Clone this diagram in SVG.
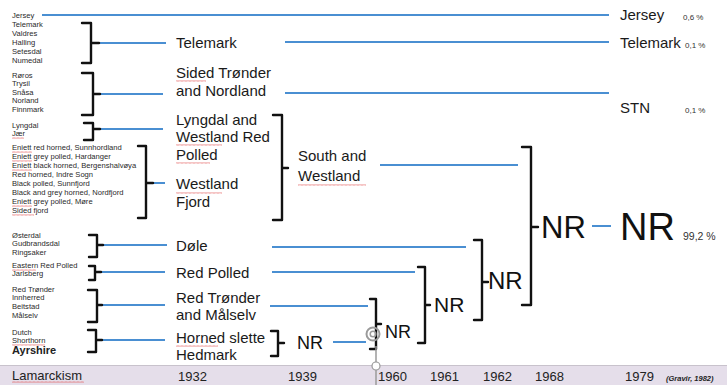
<svg xmlns="http://www.w3.org/2000/svg" width="727" height="385" viewBox="0 0 727 385">
<style>
.sm{font-family:"Liberation Sans",Arial,sans-serif;font-size:7.6px;fill:#2a2a2a}
.md{font-family:"Liberation Sans",Arial,sans-serif;font-size:15px;fill:#1a1a1a}
.yr{font-family:"Liberation Sans",Arial,sans-serif;font-size:13px;fill:#222}
.nr{font-family:"Liberation Sans",Arial,sans-serif;fill:#111}
.bl{stroke:#4a8fd2;stroke-width:2;fill:none}
.br{stroke:#111;stroke-width:2.4;fill:none;stroke-linecap:round;stroke-linejoin:round}
</style>
<defs>
<pattern id="wave" width="4" height="2" patternUnits="userSpaceOnUse">
<path d="M0 1.6 L1 0.4 L2 1.6 L3 0.4 L4 1.6" stroke="#e05050" stroke-width="0.6" fill="none"/>
</pattern>
</defs>
<rect width="727" height="385" fill="#fff"/>
<!-- timeline band -->
<g id="timeline">
<rect x="0" y="366" width="727" height="19" fill="#e5deea"/>
<line x1="0" y1="365.5" x2="727" y2="365.5" stroke="#c8c2cc" stroke-width="1"/>
<text class="yr" x="12" y="380">Lamarckism</text>
<text class="yr" x="178" y="381">1932</text>
<text class="yr" x="288" y="381">1939</text>
<text class="yr" x="378" y="381">1960</text>
<text class="yr" x="430" y="381">1961</text>
<text class="yr" x="483" y="381">1962</text>
<text class="yr" x="535" y="381">1968</text>
<text class="yr" x="625" y="381">1979</text>
<text x="666" y="381" font-family="Liberation Sans,Arial,sans-serif" font-size="7.5" font-style="italic" font-weight="bold" fill="#222">(Gravir, 1982)</text>
</g>
<!-- spellcheck squiggles -->
<g id="squiggles" fill="url(#wave)">
<rect x="12" y="381" width="72" height="2"/>
<rect x="176" y="80" width="30" height="2"/>
<rect x="176" y="144" width="46" height="2"/>
<rect x="176" y="162" width="34" height="2"/>
<rect x="176" y="192" width="46" height="2"/>
<rect x="298" y="184" width="68" height="2"/>
<rect x="176" y="345" width="42" height="2"/>
<rect x="12" y="137" width="12" height="2"/>
<rect x="12" y="151" width="20" height="2"/>
<rect x="12" y="160" width="20" height="2"/>
<rect x="12" y="169" width="20" height="2"/>
<rect x="12" y="205" width="20" height="2"/>
<rect x="12" y="214" width="22" height="2"/>
<rect x="12" y="269" width="24" height="2"/>
<rect x="12" y="344" width="33" height="2"/>
</g>
<!-- connectors -->
<g id="connectors">
<path class="bl" d="M42 15H609"/>
<path class="bl" d="M100 43H166M285 42H609"/>
<path class="bl" d="M100 94H163M285 93H609"/>
<path class="bl" d="M100 129H163"/>
<path class="bl" d="M153 183H165"/>
<path class="bl" d="M380 165H518"/>
<path class="bl" d="M103 245H167M272 247H466"/>
<path class="bl" d="M101 272H165M272 272H415"/>
<path class="bl" d="M102 305H165M270 306H368"/>
<path class="bl" d="M102 340H165M333 342H366"/>
<path class="bl" d="M592 226H611"/>
<!-- brackets -->
<path class="br" d="M82 23H91V63H82M91 43H99"/>
<path class="br" d="M82 73H93V115H82M93 94H100"/>
<path class="br" d="M84 123H93V140H84M93 129H100"/>
<path class="br" d="M138 146H146V218H138M146 183H153"/>
<path class="br" d="M89 235H97V257H89M97 245H103"/>
<path class="br" d="M89 266H95V280H89M95 272H101"/>
<path class="br" d="M88 290H97V322H88M97 305H102"/>
<path class="br" d="M88 330H96V352H88M96 340H102"/>
<path class="br" d="M271 331H278V356H271M278 343H284"/>
<path class="br" d="M273 115H282V220H273M282 168H288"/>
<path class="br" d="M370 299H376V349H370M376 324H381"/>
<path class="br" d="M418 267H425V343H418M425 305H430"/>
<path class="br" d="M474 240H482V320H474M482 282H488"/>
<path class="br" d="M522 147H531V305H522M531 227H538"/>
<!-- timeline marker -->
<line x1="376" y1="346" x2="376" y2="385" stroke="#9a9a9a" stroke-width="1.5"/>
<circle cx="376" cy="366" r="4" fill="#fff" stroke="#999" stroke-width="1.2"/>
<circle cx="373" cy="334" r="6.5" fill="none" stroke="#9a9a9a" stroke-width="2"/>
<circle cx="373" cy="334" r="2.8" fill="none" stroke="#9a9a9a" stroke-width="1.5"/>
</g>
<!-- left breed lists -->
<g id="n-jersey-src"><text class="sm" x="12" y="17.5">Jersey</text></g>
<g id="n-telemark-src">
<text class="sm" x="12" y="26.5">Telemark</text>
<text class="sm" x="12" y="35.5">Valdres</text>
<text class="sm" x="12" y="44.5">Halling</text>
<text class="sm" x="12" y="53.5">Setesdal</text>
<text class="sm" x="12" y="62.5">Numedal</text>
</g>
<g id="n-stn-src">
<text class="sm" x="12" y="77.5">Røros</text>
<text class="sm" x="12" y="86">Trysil</text>
<text class="sm" x="12" y="94.5">Snåsa</text>
<text class="sm" x="12" y="103">Norland</text>
<text class="sm" x="12" y="111.5">Finnmark</text>
</g>
<g id="n-lyngdal-src">
<text class="sm" x="12" y="127.5">Lyngdal</text>
<text class="sm" x="12" y="136">Jær</text>
</g>
<g id="n-westland-src">
<text class="sm" x="12" y="149.5">Eniett red horned, Sunnhordland</text>
<text class="sm" x="12" y="158.5">Eniett grey polled, Hardanger</text>
<text class="sm" x="12" y="167.5">Eniett black horned, Bergenshalvøya</text>
<text class="sm" x="12" y="176.5">Red horned, Indre Sogn</text>
<text class="sm" x="12" y="185.5">Black polled, Sunnfjord</text>
<text class="sm" x="12" y="194.5">Black and grey horned, Nordfjord</text>
<text class="sm" x="12" y="203.5">Eniett grey polled, Møre</text>
<text class="sm" x="12" y="212.5">Sided fjord</text>
</g>
<g id="n-dole-src">
<text class="sm" x="12" y="237.5">Østerdal</text>
<text class="sm" x="12" y="246">Gudbrandsdal</text>
<text class="sm" x="12" y="254.5">Ringsaker</text>
</g>
<g id="n-redpolled-src">
<text class="sm" x="12" y="267.5">Eastern Red Polled</text>
<text class="sm" x="12" y="276">Jarlsberg</text>
</g>
<g id="n-redtronder-src">
<text class="sm" x="12" y="291.5">Red Trønder</text>
<text class="sm" x="12" y="300">Innherred</text>
<text class="sm" x="12" y="309">Beitstad</text>
<text class="sm" x="12" y="317.5">Målselv</text>
</g>
<g id="n-horned-src">
<text class="sm" x="12" y="334.5">Dutch</text>
<text class="sm" x="12" y="342.5">Shorthorn</text>
<text x="12" y="354" font-family="Liberation Sans,Arial,sans-serif" font-size="11" font-weight="bold" fill="#222">Ayrshire</text>
</g>
<!-- middle breed groups -->
<g id="n-telemark"><text class="md" x="176" y="48">Telemark</text></g>
<g id="n-stn"><text class="md" x="176" y="78">Sided Trønder</text><text class="md" x="176" y="96">and Nordland</text></g>
<g id="n-lyngdal"><text class="md" x="176" y="125">Lyngdal and</text><text class="md" x="176" y="142">Westland Red</text><text class="md" x="176" y="160">Polled</text></g>
<g id="n-westland"><text class="md" x="176" y="189">Westland</text><text class="md" x="176" y="207">Fjord</text></g>
<g id="n-dole"><text class="md" x="176" y="251">Døle</text></g>
<g id="n-redpolled"><text class="md" x="176" y="278">Red Polled</text></g>
<g id="n-redtronder"><text class="md" x="176" y="303">Red Trønder</text><text class="md" x="176" y="320">and Målselv</text></g>
<g id="n-hornedslette"><text class="md" x="176" y="343">Horned slette</text><text class="md" x="176" y="360">Hedmark</text></g>
<g id="n-southwest"><text class="md" x="298" y="161" font-size="16.5">South and</text><text class="md" x="298" y="181" font-size="16.5">Westland</text></g>
<!-- NR nodes -->
<g id="n-nr1939"><text class="nr" x="297" y="349" font-size="18">NR</text></g>
<g id="n-nr1960"><text class="nr" x="385" y="338" font-size="18">NR</text></g>
<g id="n-nr1961"><text class="nr" x="434" y="312" font-size="21">NR</text></g>
<g id="n-nr1962"><text class="nr" x="488" y="289" font-size="24">NR</text></g>
<g id="n-nr1968"><text class="nr" x="541" y="238" font-size="31">NR</text></g>
<g id="n-nr1979"><text class="nr" x="620" y="240" font-size="38">NR</text><text x="683" y="240" font-family="Liberation Sans,Arial,sans-serif" font-size="10.5" fill="#333">99,2 %</text></g>
<!-- right labels -->
<g id="n-jersey"><text class="md" x="620" y="20" font-size="13.5">Jersey</text><text x="683" y="20" font-family="Liberation Sans,Arial,sans-serif" font-size="8" fill="#333">0,6 %</text></g>
<g id="n-telemark-r"><text class="md" x="620" y="48" font-size="14">Telemark</text><text x="685" y="48" font-family="Liberation Sans,Arial,sans-serif" font-size="8" fill="#333">0,1 %</text></g>
<g id="n-stn-r"><text class="md" x="620" y="113" font-size="13.5">STN</text><text x="685" y="113" font-family="Liberation Sans,Arial,sans-serif" font-size="8" fill="#333">0,1 %</text></g>
</svg>
